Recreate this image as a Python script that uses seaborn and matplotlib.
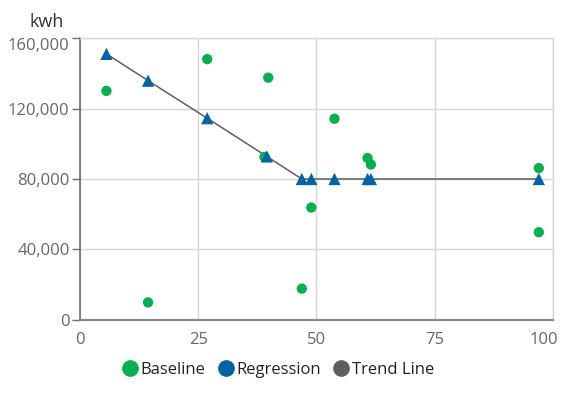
import matplotlib
matplotlib.use("Agg")
import matplotlib.pyplot as plt
import matplotlib.transforms as mtransforms
from matplotlib.lines import Line2D
from matplotlib.ticker import FuncFormatter
import pandas as pd
import seaborn as sns

# Values
baseline_x = [5.6, 14.4, 26.9, 39.8, 39.0, 46.9, 48.9, 53.8, 60.8, 61.5, 97.0, 97.0]
baseline_y = [130000, 10000, 148000, 137500, 92500, 17800, 63800, 114200, 91900, 88200, 86200, 49800]

regression_x = [5.6, 14.4, 26.9, 39.5, 46.9, 48.9, 53.8, 60.8, 61.5, 97.0]
regression_y = [151000, 135800, 114500, 92800, 80000, 80000, 80000, 80000, 80000, 80000]

x_ticks = [0, 25, 50, 75, 100]
y_ticks = [0, 40000, 80000, 120000, 160000]

green = "#00b04f"
blue = "#0063a6"
grey = "#5f5f5f"

sns.set_theme(style="whitegrid")
plt.rcParams["font.family"] = ["Open Sans", "DejaVu Sans"]

baseline_df = pd.DataFrame({"x": baseline_x, "y": baseline_y})
regression_df = pd.DataFrame({"x": regression_x, "y": regression_y})

fig = plt.figure(figsize=(5.88, 3.98), dpi=100)
ax = fig.add_axes([0.136, 0.196, 0.8045, 0.7085])

# trend line through the regression points
sns.lineplot(data=regression_df, x="x", y="y", ax=ax, color=grey,
             linewidth=1.1, estimator=None, sort=True, zorder=2)
sns.scatterplot(data=baseline_df, x="x", y="y", ax=ax, color=green,
                s=55, edgecolor="none", zorder=3)
sns.scatterplot(data=regression_df, x="x", y="y", ax=ax, color=blue,
                marker="^", s=78, edgecolor="none", zorder=4)

ax.set_xlim(0, 100)
ax.set_ylim(0, 160000)
ax.set_xticks(x_ticks)
ax.set_yticks(y_ticks)
ax.yaxis.set_major_formatter(FuncFormatter(lambda v, p: f"{int(v):,}"))
ax.set_xlabel("")
ax.set_ylabel("")

ax.set_facecolor("white")
ax.grid(True, color="#d6d6d6", linewidth=1)
for side in ["top", "right"]:
    ax.spines[side].set_color("#d6d6d6")
    ax.spines[side].set_linewidth(1)
ax.spines["left"].set_color("#6e6e6e")
ax.spines["bottom"].set_color("#8a8a8a")
ax.spines["left"].set_linewidth(1.2)
ax.spines["bottom"].set_linewidth(1.6)

ax.tick_params(axis="y", left=True, length=6, width=1, color="#6e6e6e",
               labelsize=12, labelcolor="#666666", pad=1.5)
ax.tick_params(axis="x", bottom=False, labelsize=12, labelcolor="#666666", pad=3)

# the end labels are pulled inside, as in the reference
ax.get_yticklabels()[-1].set_va("top")
last_x = ax.get_xticklabels()[-1]
last_x.set_ha("right")
last_x.set_transform(last_x.get_transform() +
                     mtransforms.ScaledTranslation(5 / 100, 0, fig.dpi_scale_trans))

fig.text(0.08, 0.945, "kwh", fontsize=13, color="#333333", ha="center", va="center")

handles = [
    Line2D([], [], marker="o", linestyle="", color=green, markersize=11),
    Line2D([], [], marker="o", linestyle="", color=blue, markersize=11),
    Line2D([], [], marker="o", linestyle="", color=grey, markersize=11),
]
fig.legend(handles, ["Baseline", "Regression", "Trend Line"], loc="center",
           bbox_to_anchor=(0.471, 0.07), ncol=3, frameon=False, fontsize=12,
           handletextpad=0.05, columnspacing=0.6, handlelength=1.2,
           labelcolor="#222222")

fig.savefig("out.png", dpi=100)
